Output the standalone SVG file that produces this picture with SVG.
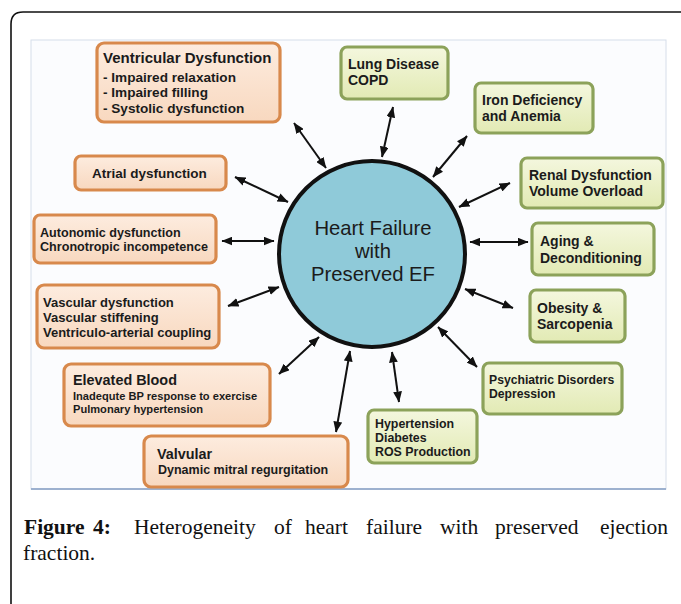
<svg xmlns="http://www.w3.org/2000/svg" width="681" height="604" viewBox="0 0 681 604">
<style>
.bx{stroke-width:3.2}
.or{fill:url(#gOr);stroke:#D8894C}
.gr{fill:url(#gGr);stroke:#8CA25A}
.t{font-family:"Liberation Sans",Arial,Helvetica,sans-serif;font-weight:bold;fill:#1b1b1b}
.ct{font-family:"Liberation Sans",Arial,Helvetica,sans-serif;fill:#1b1b1b;font-size:20.3px;text-anchor:middle}
.cap{font-family:"Liberation Serif","Times New Roman",serif;font-size:21.5px;fill:#111}
.arr{stroke:#111;stroke-width:2;fill:none;marker-start:url(#ah);marker-end:url(#ah)}
</style>
<defs>
<linearGradient id="gOr" x1="0" y1="0" x2="0" y2="1">
<stop offset="0" stop-color="#FDECDF"/>
<stop offset="1" stop-color="#F8D8BF"/>
</linearGradient>
<linearGradient id="gGr" x1="0" y1="0" x2="0" y2="1">
<stop offset="0" stop-color="#F4F7DE"/>
<stop offset="1" stop-color="#E2EAB4"/>
</linearGradient>
<marker id="ah" viewBox="0 0 10 8" refX="9.5" refY="4" markerWidth="11" markerHeight="9" markerUnits="userSpaceOnUse" orient="auto-start-reverse">
<path d="M0,0 L10,4 L0,8 z" fill="#111"/>
</marker>
</defs>
<rect width="681" height="604" fill="#fff"/>
<path d="M11,604 V24 Q11,12 23,12 H681" fill="none" stroke="#111" stroke-width="1.6"/>
<g id="panel">
<rect x="31" y="40" width="635" height="449" fill="#FBFCFE" stroke="#D6DEEA" stroke-width="1"/>
<line x1="31" y1="489" x2="666" y2="489" stroke="#9DB1CF" stroke-width="2"/>
</g>
<g id="connectors">
<line class="arr" x1="294" y1="123" x2="326" y2="168"/>
<line class="arr" x1="235" y1="177" x2="288" y2="202"/>
<line class="arr" x1="222" y1="241" x2="274" y2="241"/>
<line class="arr" x1="228" y1="306" x2="279" y2="287"/>
<line class="arr" x1="279" y1="374" x2="319" y2="337"/>
<line class="arr" x1="350" y1="351" x2="336" y2="432"/>
<line class="arr" x1="392" y1="352" x2="399" y2="402"/>
<line class="arr" x1="438" y1="327" x2="477" y2="367"/>
<line class="arr" x1="465" y1="289" x2="513" y2="308"/>
<line class="arr" x1="470" y1="242" x2="528" y2="242"/>
<line class="arr" x1="459" y1="207" x2="510" y2="183"/>
<line class="arr" x1="433" y1="177" x2="467" y2="136"/>
<line class="arr" x1="382" y1="157" x2="393" y2="107"/>
</g>
<g id="center">
<circle cx="372" cy="254" r="93" fill="#8FCAD9" stroke="#111" stroke-width="4"/>
<text class="ct" x="373" y="235">Heart Failure</text>
<text class="ct" x="373" y="258">with</text>
<text class="ct" x="373" y="281">Preserved EF</text>
</g>
<g id="ventricular">
<rect class="bx or" x="97" y="43" width="183" height="79" rx="7"/>
<text class="t" x="103" y="63" font-size="15">Ventricular Dysfunction</text>
<text class="t" x="103" y="82" font-size="13.6">- Impaired relaxation</text>
<text class="t" x="103" y="97" font-size="13.6">- Impaired filling</text>
<text class="t" x="103" y="113" font-size="13.6">- Systolic dysfunction</text>
</g>
<g id="atrial">
<rect class="bx or" x="75" y="156" width="151" height="34" rx="6"/>
<text class="t" x="92" y="178" font-size="13.5">Atrial dysfunction</text>
</g>
<g id="autonomic">
<rect class="bx or" x="34" y="215" width="182" height="48" rx="6"/>
<text class="t" x="40" y="237" font-size="12.6">Autonomic dysfunction</text>
<text class="t" x="40" y="251" font-size="12.6">Chronotropic incompetence</text>
</g>
<g id="vascular">
<rect class="bx or" x="37" y="285" width="182" height="63" rx="7"/>
<text class="t" x="43" y="307" font-size="13">Vascular dysfunction</text>
<text class="t" x="43" y="322" font-size="13">Vascular stiffening</text>
<text class="t" x="43" y="337" font-size="13">Ventriculo-arterial coupling</text>
</g>
<g id="elevated">
<rect class="bx or" x="64" y="364" width="206" height="62" rx="7"/>
<text class="t" x="73" y="385" font-size="14.4">Elevated Blood</text>
<text class="t" x="73" y="400" font-size="11.1">Inadequte BP response to exercise</text>
<text class="t" x="73" y="413" font-size="11.1">Pulmonary hypertension</text>
</g>
<g id="valvular">
<rect class="bx or" x="144" y="436" width="204" height="51" rx="7"/>
<text class="t" x="157" y="459" font-size="14.4">Valvular</text>
<text class="t" x="158" y="474" font-size="12.5">Dynamic mitral regurgitation</text>
</g>
<g id="lung">
<rect class="bx gr" x="341" y="47" width="107" height="52" rx="6"/>
<text class="t" x="348" y="69" font-size="14">Lung Disease</text>
<text class="t" x="348" y="85" font-size="14">COPD</text>
</g>
<g id="iron">
<rect class="bx gr" x="475" y="83" width="118" height="50" rx="6"/>
<text class="t" x="482" y="105" font-size="14">Iron Deficiency</text>
<text class="t" x="482" y="121" font-size="14">and Anemia</text>
</g>
<g id="renal">
<rect class="bx gr" x="521" y="158" width="142" height="50" rx="6"/>
<text class="t" x="529" y="180" font-size="14">Renal Dysfunction</text>
<text class="t" x="529" y="196" font-size="14">Volume Overload</text>
</g>
<g id="aging">
<rect class="bx gr" x="532" y="223" width="122" height="52" rx="6"/>
<text class="t" x="540" y="246" font-size="14">Aging &amp;</text>
<text class="t" x="540" y="263" font-size="14">Deconditioning</text>
</g>
<g id="obesity">
<rect class="bx gr" x="530" y="290" width="95" height="52" rx="6"/>
<text class="t" x="537" y="313" font-size="14">Obesity &amp;</text>
<text class="t" x="537" y="329" font-size="14">Sarcopenia</text>
</g>
<g id="psychiatric">
<rect class="bx gr" x="483" y="363" width="139" height="51" rx="6"/>
<text class="t" x="489" y="384" font-size="12.2">Psychiatric Disorders</text>
<text class="t" x="489" y="398" font-size="12.2">Depression</text>
</g>
<g id="hypertension">
<rect class="bx gr" x="368" y="410" width="109" height="53" rx="6"/>
<text class="t" x="375" y="428" font-size="12.4">Hypertension</text>
<text class="t" x="375" y="442" font-size="12.4">Diabetes</text>
<text class="t" x="375" y="456" font-size="12.4">ROS Production</text>
</g>
<g id="caption">
<text class="cap" y="534"><tspan x="24" font-weight="bold">Figure</tspan><tspan x="93" font-weight="bold">4:</tspan><tspan x="134">Heterogeneity</tspan><tspan x="274">of</tspan><tspan x="305">heart</tspan><tspan x="366">failure</tspan><tspan x="440">with</tspan><tspan x="495">preserved</tspan><tspan x="600">ejection</tspan></text>
<text class="cap" x="23" y="560" font-size="22.5px">fraction.</text>
</g>
</svg>
